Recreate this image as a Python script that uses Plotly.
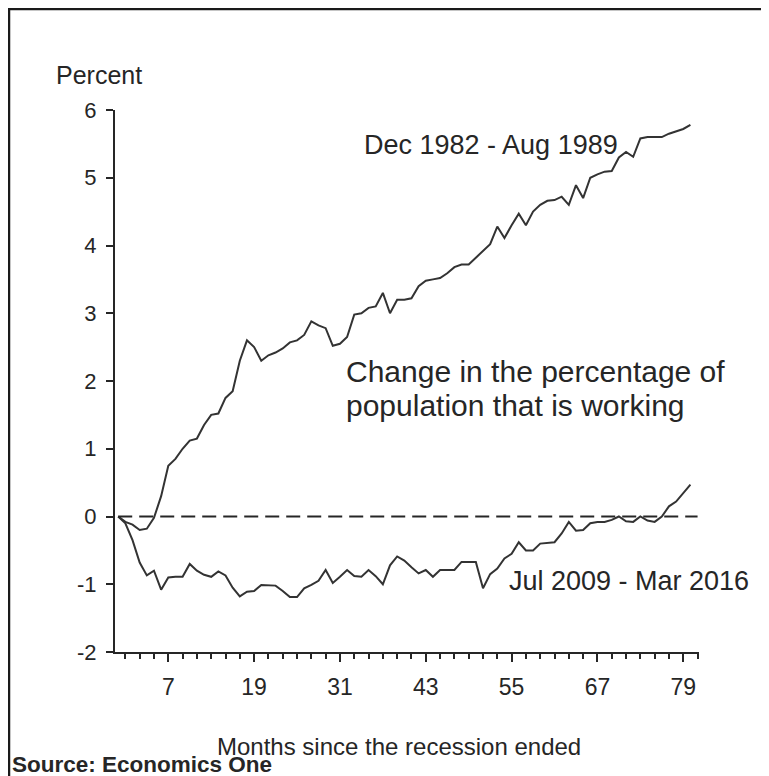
import plotly.graph_objects as go

# ---- data ----
months = list(range(0, 81))

expansion_1982_1989 = [
    0.0, -0.08, -0.12, -0.2, -0.18, -0.02, 0.3, 0.75, 0.85, 1.0,
    1.12, 1.15, 1.35, 1.5, 1.52, 1.75, 1.85, 2.3, 2.6, 2.5,
    2.3, 2.38, 2.42, 2.48, 2.57, 2.6, 2.68, 2.88, 2.82, 2.78,
    2.52, 2.55, 2.65, 2.98, 3.0, 3.08, 3.1, 3.3, 3.0, 3.2,
    3.2, 3.22, 3.4, 3.48, 3.5, 3.52, 3.59, 3.68, 3.72, 3.72,
    3.82, 3.92, 4.02, 4.28, 4.11, 4.3, 4.47, 4.3, 4.5, 4.6,
    4.66, 4.67, 4.72, 4.6, 4.89, 4.7, 5.0, 5.05, 5.09, 5.1,
    5.3, 5.38, 5.31, 5.58, 5.6, 5.6, 5.6, 5.65, 5.68, 5.72,
    5.78,
]

expansion_2009_2016 = [
    0.0, -0.1, -0.35, -0.68, -0.87, -0.8, -1.08, -0.9, -0.89, -0.89,
    -0.7, -0.8, -0.86, -0.89, -0.81, -0.87, -1.05, -1.18, -1.11, -1.1,
    -1.01, -1.01, -1.02, -1.1, -1.19, -1.19, -1.06, -1.01, -0.95, -0.79,
    -0.98, -0.89, -0.79, -0.88, -0.89, -0.79, -0.88, -1.0, -0.72, -0.59,
    -0.65, -0.75, -0.84, -0.79, -0.89, -0.79, -0.79, -0.79, -0.67, -0.67,
    -0.67, -1.06, -0.85, -0.77, -0.62, -0.55, -0.38, -0.5, -0.5, -0.4,
    -0.39, -0.38, -0.25, -0.08, -0.21, -0.2, -0.1, -0.08, -0.08, -0.05,
    0.0, -0.07, -0.08, 0.0, -0.06, -0.08, 0.0, 0.15, 0.22, 0.35,
    0.47,
]

x_tick_vals = [7, 19, 31, 43, 55, 67, 79]
x_tick_text = ["7", "19", "31", "43", "55", "67", "79"]
y_tick_vals = [-2, -1, 0, 1, 2, 3, 4, 5, 6]
y_tick_text = ["-2", "-1", "0", "1", "2", "3", "4", "5", "6"]
zero_line_span = [0, 81]

# ---- layout geometry ----
# The page body adds an 8px offset; positions below are screen pixels.
OFF = 8
W, H = 769, 776
SCR_L, SCR_R, SCR_T, SCR_B = 115, 699, 110, 652
L = SCR_L - OFF
T = SCR_T - OFF
R = W - (SCR_R - OFF)
B = H - (SCR_B - OFF)
PW = SCR_R - SCR_L
PH = SCR_B - SCR_T


def px(x):
    return (x - SCR_L) / PW


def py(y):
    return (SCR_B - y) / PH


INK = "#262626"
FONT = "Liberation Sans, Arial, sans-serif"

fig = go.Figure()
for series in (expansion_1982_1989, expansion_2009_2016):
    fig.add_trace(go.Scatter(
        x=months, y=series, mode="lines",
        line=dict(color="#333333", width=2),
        showlegend=False, hoverinfo="skip",
    ))

fig.update_layout(
    width=W, height=H,
    margin=dict(l=L, r=R, t=T, b=B),
    paper_bgcolor="white", plot_bgcolor="white",
    font=dict(family=FONT, color=INK, size=22),
    xaxis=dict(
        range=[-0.45, 81.2],
        tickmode="array", tickvals=x_tick_vals, ticktext=x_tick_text,
        ticks="outside", ticklen=8, tickwidth=2, tickcolor=INK,
        minor=dict(tick0=1, dtick=2, ticks="outside", ticklen=5,
                   tickwidth=1.5, tickcolor=INK),
        showline=True, linewidth=2, linecolor=INK,
        showgrid=False, zeroline=False,
        tickfont=dict(size=23, family=FONT, color=INK),
        ticklabelstandoff=5,
    ),
    yaxis=dict(
        range=[-2, 6],
        tickmode="array", tickvals=y_tick_vals, ticktext=y_tick_text,
        ticks="outside", ticklen=7, tickwidth=2, tickcolor=INK,
        showline=True, linewidth=2, linecolor=INK,
        showgrid=False, zeroline=False,
        tickfont=dict(size=22, family=FONT, color=INK),
        ticklabelstandoff=5,
    ),
    shapes=[
        dict(type="line", xref="x", yref="y",
             x0=zero_line_span[0], x1=zero_line_span[1], y0=0, y1=0,
             line=dict(color=INK, width=2, dash="14px,7px")),
        dict(type="rect", xref="paper", yref="paper",
             x0=px(9), x1=px(767), y0=py(800), y1=py(9),
             line=dict(color="#1a1a1a", width=2.5)),
    ],
)

annotations = [
    dict(text="Percent", x=px(99), y=py(75), xanchor="center", yanchor="middle",
         font=dict(size=25)),
    dict(text="Dec 1982 - Aug 1989", x=px(362), y=py(145), xanchor="left",
         yanchor="middle", font=dict(size=27)),
    dict(text="Change in the percentage of",
         x=px(344), y=py(371), xanchor="left", yanchor="middle",
         font=dict(size=30)),
    dict(text="population that is working",
         x=px(344), y=py(405), xanchor="left", yanchor="middle",
         font=dict(size=30)),
    dict(text="Jul 2009 - Mar 2016", x=px(507), y=py(581), xanchor="left",
         yanchor="middle", font=dict(size=27)),
    dict(text="Months since the recession ended", x=px(399), y=py(746),
         xanchor="center", yanchor="middle", font=dict(size=24)),
    dict(text="<b>Source: Economics One</b>", x=px(10), y=py(764),
         xanchor="left", yanchor="middle", font=dict(size=22.5)),
]
for a in annotations:
    a.update(xref="paper", yref="paper", showarrow=False)
    a["font"].update(family=FONT, color=INK)
fig.update_layout(annotations=annotations)

fig.write_html("out.html")
